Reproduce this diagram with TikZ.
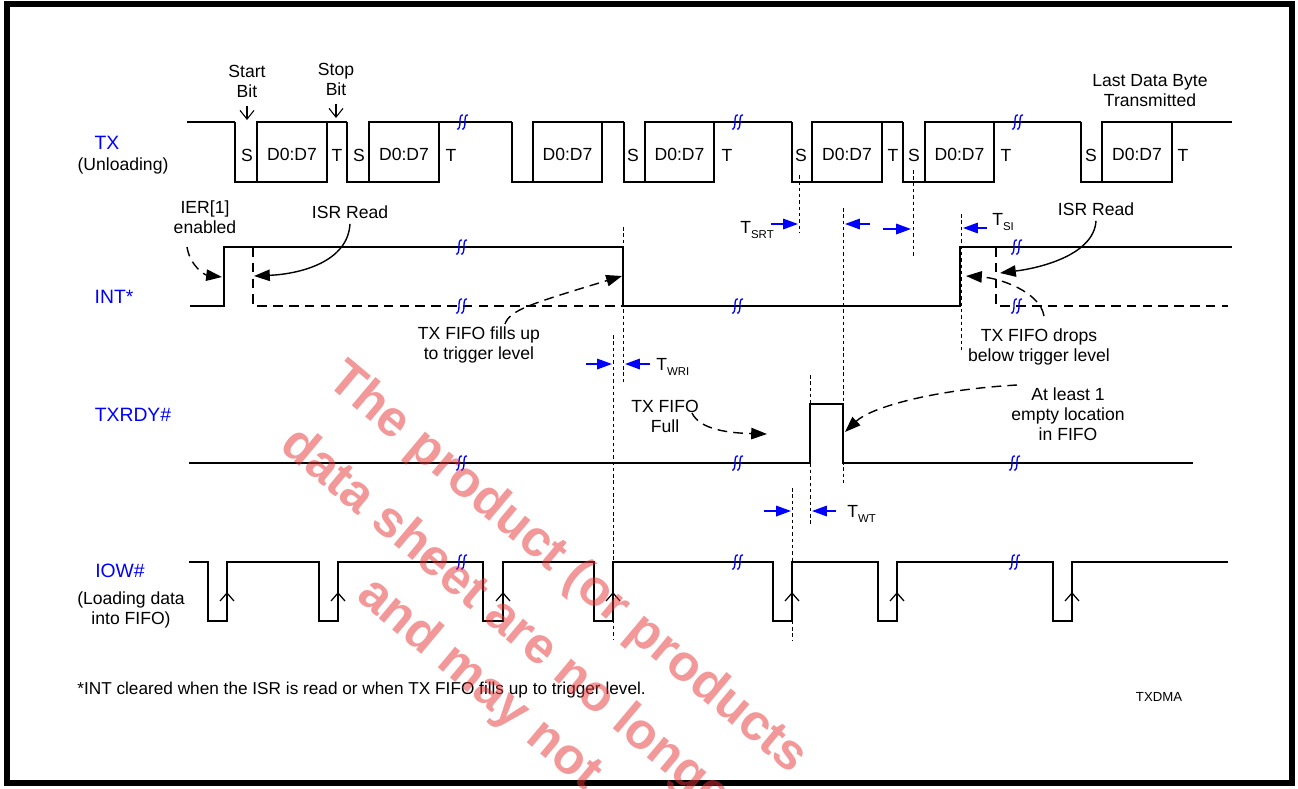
\documentclass[tikz,border=0pt]{standalone}
\usepackage{fontspec}
\setmainfont{Liberation Sans}
\usetikzlibrary{arrows.meta}
\newcommand{\tsub}[1]{T\raisebox{-3pt}{\fontsize{6.5}{7}\selectfont #1}}
\definecolor{wmred}{RGB}{230,50,50}
\tikzset{
  sig/.style={line width=0.9pt},
  longdash/.style={dash pattern=on 5.5pt off 3.5pt},
  tline/.style={line width=0.5pt, dash pattern=on 2pt off 1.6pt},
  lbl/.style={text=blue, font=\fontsize{11}{13}\selectfont, inner sep=0pt},
  txt/.style={font=\fontsize{10}{11.4}\selectfont, align=center, inner sep=0pt},
  note/.style={line width=0.8pt, -{Triangle[length=9pt,width=6.5pt]}},
  tarr/.style={blue, line width=0.9pt, -{Triangle[length=8.5pt,width=6pt]}},
  brk/.pic={\draw[blue, line width=0.75pt]
             (0,-7) .. controls (-3,-8) and (-3,-3) .. (-3,0) .. controls (-3,4) and (-4,8) .. (-6,7)
             (5,-7) .. controls (2,-8) and (2,-3) .. (2,0) .. controls (2,4) and (1,8) .. (-1,7);},
  rise/.pic={\draw[line width=0.7pt] (-7,8) -- (0,0) -- (7,8);}
}
\begin{document}
\begin{tikzpicture}[x=0.02cm, y=-0.02cm]
  \useasboundingbox (0,0) rectangle (1298,788);
  % frame
  \draw[line width=3.4pt] (7,4) rectangle (1292,783);

  % TX line
  \node[lbl] (tx) at (107,143) {TX};
  \node[txt] (txu) at (123,166) {(Unloading)};
  \draw[sig] (187,122) -- (235,122) (327,122) -- (347,122) (439,122) -- (512,122)
    (602,122) -- (624,122) (714,122) -- (792,122) (882,122) -- (903,122)
    (994,122) -- (1081,122) (1172,122) -- (1232,122);
  \foreach \a/\b/\c in {235/257/327, 347/369/439, 512/533/602, 624/645/714,
      792/812/882, 903/925/994, 1081/1102/1172}{
    \draw[sig] (\a,122) -- (\a,182) -- (\b,182);
    \draw[sig] (\b,122) rectangle (\c,182);
    \node[txt] at ({(\b+\c)/2},154) {D0:D7};
  }
  \foreach \x in {247,359,633,801,914,1091} \node[txt] at (\x,155) {S};
  \foreach \x in {337,451,727,893,1006,1183} \node[txt] at (\x,155) {T};
  \node[txt] (startb) at (247,81) {Start\\Bit};
  \node[txt] (stopb) at (336,79) {Stop\\Bit};
  \node[txt] (lastb) at (1150,91) {Last Data Byte\\Transmitted};
  \coordinate (st) at (247,120);
  \coordinate (sp) at (336,118);
  \draw[line width=0.6pt, -{Straight Barb[length=5pt,width=8pt]}] (startb.south) ++(0,8) -- (st);
  \draw[line width=0.6pt, -{Straight Barb[length=5pt,width=8pt]}] (stopb.south) ++(0,8) -- (sp);

  % INT line
  \node[lbl] (int) at (114,297) {INT*};
  \draw[sig] (190,306) -- (224,306) -- (224,247) -- (623,247) -- (623,306)
    -- (960,306) -- (960,247) -- (1232,247);
  \draw[sig, longdash] (253,247) -- (253,306) -- (623,306);
  \draw[sig, longdash] (996,247) -- (996,306) -- (1228,306);

  % TXRDY line
  \node[lbl] (rdy) at (133,415) {TXRDY\#};
  \draw[sig] (189,463) -- (810,463) -- (810,404) -- (843,404) -- (843,463) -- (1193,463);

  % IOW line
  \node[lbl] (iow) at (120,571) {IOW\#};
  \node[txt] (iowl) at (131,610) {(Loading data\\into FIFO)};
  \draw[sig] (189,562) \foreach \a/\b in {208/227, 319/338, 483/503, 594/613,
      773/792, 878/897, 1053/1072}{ -- (\a,562) -- (\a,621) -- (\b,621) -- (\b,562) }
    -- (1228,562);
  \foreach \b in {227,338,503,613,792,897,1072} \pic at (\b,593) {rise};

  % breaks
  \foreach \p in {(463,122),(738,122),(1018,122),(462,247),(462,306),(738,306),
      (1017,247),(1017,306),(462,463),(738,463),(1015,463),(462,562),(738,562),(1015,562)}
    \pic at \p {brk};

  % timing markers
  \draw[tline] (799,175) -- (799,233);
  \draw[tline] (913,170) -- (913,258);
  \draw[tline] (623,227) -- (623,384);
  \draw[tline] (613,335) -- (613,640);
  \draw[tline] (843,208) -- (843,483);
  \draw[tline] (961,214) -- (961,350);
  \draw[tline] (810,375) -- (810,525);
  \draw[tline] (792,488) -- (792,640);

  \node[txt, anchor=base west] (tsrt) at (740,233) {\tsub{SRT}};
  \draw[tarr] (771,224) -- (798,224);
  \draw[tarr] (870,224) -- (845,224);
  \draw[tarr] (883,229) -- (911,229);
  \node[txt, anchor=base west] (tsi) at (992,225) {\tsub{SI}};
  \draw[tarr] (987,228) -- (963,228);
  \node[txt, anchor=base west] (twri) at (656,370) {\tsub{WRI}};
  \draw[tarr] (586,364) -- (612,364);
  \draw[tarr] (650,364) -- (625,364);
  \node[txt, anchor=base west] (twt) at (847,517) {\tsub{WT}};
  \draw[tarr] (764,511) -- (791,511);
  \draw[tarr] (836,511) -- (812,511);

  % notes
  \node[txt] (ier) at (205,217) {IER[1]\\enabled};
  \coordinate (ier0) at (187,247);
  \coordinate (ier1) at (222,277);
  \draw[note, longdash] (ier0) .. controls (190,266) and (205,275) .. (ier1);
  \node[txt] (isra) at (350,212) {ISR Read};
  \coordinate (isra1) at (254,276);
  \draw[note] (isra.south) ++(0,5) .. controls (348,262) and (300,274) .. (isra1);
  \node[txt] (fill) at (479,345) {TX FIFO fills up\\to trigger level};
  \coordinate (fill0) at (505,324);
  \coordinate (fill1) at (622,276);
  \draw[note, longdash] (fill0) .. controls (510,310) and (530,304) .. (fill1);
  \node[txt] (isrb) at (1096,209) {ISR Read};
  \coordinate (isrb1) at (1000,273);
  \draw[note] (isrb.south) ++(0,5) .. controls (1094,255) and (1040,268) .. (isrb1);
  \node[txt] (drops) at (1039,347) {TX FIFO drops\\below trigger level};
  \coordinate (drops0) at (1044,316);
  \coordinate (drops1) at (966,276);
  \draw[note, longdash] (drops0) .. controls (1040,292) and (1000,278) .. (drops1);
  \node[txt] (full) at (665,416) {TX FIFO\\Full};
  \coordinate (full0) at (692,413);
  \coordinate (full1) at (767,434);
  \draw[note, longdash] (full0) .. controls (700,430) and (730,433) .. (full1);
  \node[txt] (empty) at (1068,414) {At least 1\\empty location\\in FIFO};
  \coordinate (empty0) at (1017,385);
  \coordinate (empty1) at (845,432);
  \draw[note, longdash] (empty0) .. controls (930,390) and (870,408) .. (empty1);

  % footnote
  \node[font=\fontsize{9.8}{11}\selectfont, anchor=west, inner sep=0pt] (foot) at (77,690)
    {*INT cleared when the ISR is read or when TX FIFO fills up to trigger level.};
  \node[font=\fontsize{7.5}{9}\selectfont, inner sep=0pt] (tag) at (1159,697) {TXDMA};

  % watermark
  \begin{scope}[every node/.style={text=wmred, opacity=0.5, rotate=-40, anchor=base west,
      inner sep=0pt, font=\fontsize{29}{34}\bfseries}]
    \node (wm1) at (325,383) {The product (or products};
    \node (wm2) at (278,448) {data sheet are no longer};
    \node (wm3) at (355,598) {and may not};
  \end{scope}
\end{tikzpicture}
\end{document}
